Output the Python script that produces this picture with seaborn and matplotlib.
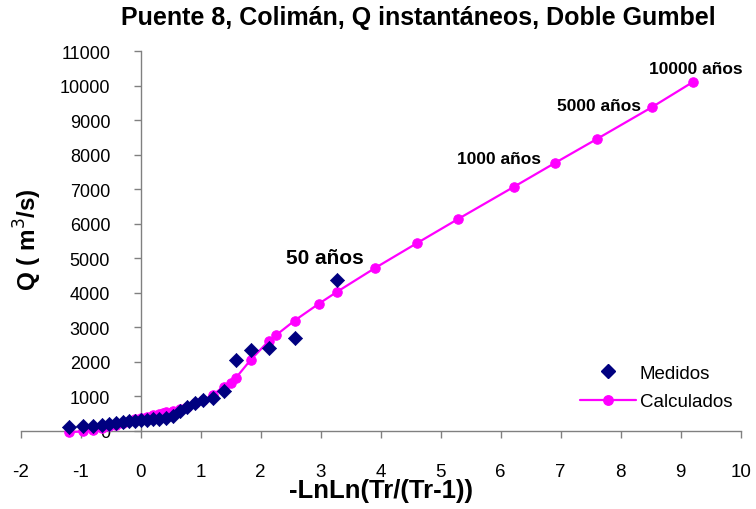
import matplotlib
matplotlib.use("Agg")
import matplotlib.pyplot as plt
import seaborn as sns
import pandas as pd
from matplotlib.lines import Line2D

# measured floods (plotting position -LnLn(Tr/(Tr-1)) vs Q)
x_med = [-1.193, -0.957, -0.787, -0.647, -0.523, -0.408, -0.300, -0.196, -0.094, 0.007,
         0.108, 0.209, 0.313, 0.420, 0.531, 0.648, 0.771, 0.903, 1.046, 1.204,
         1.381, 1.586, 1.831, 2.139, 2.564, 3.277]
q_med = [110, 125, 150, 175, 205, 235, 260, 275, 290, 300,
         310, 325, 340, 380, 440, 560, 680, 790, 900, 950,
         1150, 2040, 2350, 2400, 2700, 4380]

# Doble Gumbel fit
x_calc = [-1.193, -0.957, -0.787, -0.647, -0.523, -0.408, -0.300, -0.196, -0.094, 0.007,
          0.108, 0.209, 0.313, 0.367, 0.420, 0.531, 0.648, 0.771, 0.903, 1.046,
          1.204, 1.381, 1.500, 1.586, 1.831, 2.139, 2.250, 2.564, 2.970, 3.277,
          3.902, 4.600, 5.296, 6.214, 6.907, 7.601, 8.517, 9.210]
q_calc = [-40, -20, 30, 80, 130, 180, 230, 280, 330, 370,
          410, 450, 490, 510, 530, 575, 630, 700, 790, 890,
          1040, 1280, 1390, 1530, 2050, 2610, 2760, 3190, 3680, 4030,
          4710, 5430, 6140, 7060, 7760, 8450, 9370, 10110]

# return period labels: (text, x of the point it refers to, Q)
labels = ["50 años", "1000 años", "5000 años", "10000 años"]
label_x = [3.277, 6.907, 8.517, 9.210]
label_q = [4380, 7760, 9370, 10110]

med = pd.DataFrame({"x": x_med, "q": q_med})
calc = pd.DataFrame({"x": x_calc, "q": q_calc})

sns.set_style("white")
plt.rcParams["font.family"] = ["Liberation Sans", "DejaVu Sans"]
plt.rcParams["axes.unicode_minus"] = False
plt.rcParams["text.color"] = "black"
plt.rcParams["axes.labelcolor"] = "black"
plt.rcParams["xtick.color"] = "black"
plt.rcParams["ytick.color"] = "black"

fig = plt.figure(figsize=(7.56, 5.10), dpi=100)
ax = fig.add_axes([0.0274, 0.1535, 0.9524, 0.7445])

sns.lineplot(data=calc, x="x", y="q", color="#FF00FF", lw=1.6, marker="o", ms=6.8,
             mec="#FF00FF", sort=False, ax=ax, clip_on=False, zorder=2)
sns.scatterplot(data=med, x="x", y="q", color="#000080", marker="D", s=52,
                edgecolor="#000080", linewidth=0.5, ax=ax, clip_on=False, zorder=3)

ax.set_xlim(-2, 10)
ax.set_ylim(0, 11000)
ax.set_xticks(range(-2, 11))
ax.set_yticks(range(0, 11001, 1000))

for s in ["top", "right"]:
    ax.spines[s].set_visible(False)
ax.spines["left"].set_position(("data", 0))
ax.spines["bottom"].set_position(("data", 0))
for s in ["left", "bottom"]:
    ax.spines[s].set_color("#808080")
    ax.spines[s].set_linewidth(1.0)
    ax.spines[s].set_zorder(1)

ax.tick_params(axis="y", left=True, direction="out", length=5, width=1, color="#808080",
               labelcolor="black", pad=17, labelsize=13)
ax.tick_params(axis="x", bottom=True, direction="out", length=5, width=1, color="#808080",
               labelcolor="black", pad=18, labelsize=13.5)
ax.set_xlabel("-LnLn(Tr/(Tr-1))", fontsize=18.5, fontweight="bold", labelpad=-1)
ax.set_ylabel("")
fig.text(0.037, 0.53, "Q ( m$^3$/s)", rotation=90, ha="center", va="center",
         fontsize=17.5, fontweight="bold")
fig.suptitle("Puente 8, Colimán, Q instantáneos, Doble Gumbel", x=0.553, y=0.988,
             fontsize=18, fontweight="bold")

offsets = [(-9, 9), (-10, -2), (-8, -4), (2, 4)]
aligns = ["center", "right", "right", "center"]
sizes = [15, 12.5, 12.5, 12.5]
for t, lx, lq, off, ha, fs in zip(labels, label_x, label_q, offsets, aligns, sizes):
    ax.annotate(t, xy=(lx, lq), xytext=off, textcoords="offset points",
                ha=ha, va="bottom", fontsize=fs, fontweight="bold")

handles = [Line2D([], [], color="#000080", marker="D", ls="none", ms=7.2),
           Line2D([], [], color="#FF00FF", marker="o", lw=1.6, ms=6.8)]
ax.legend(handles, ["Medidos", "Calculados"], loc="lower right",
          bbox_to_anchor=(1.012, 0.009), frameon=False, fontsize=13.5,
          handlelength=3, handletextpad=0.2, labelspacing=0.6)

fig.savefig("out.png", dpi=100)
